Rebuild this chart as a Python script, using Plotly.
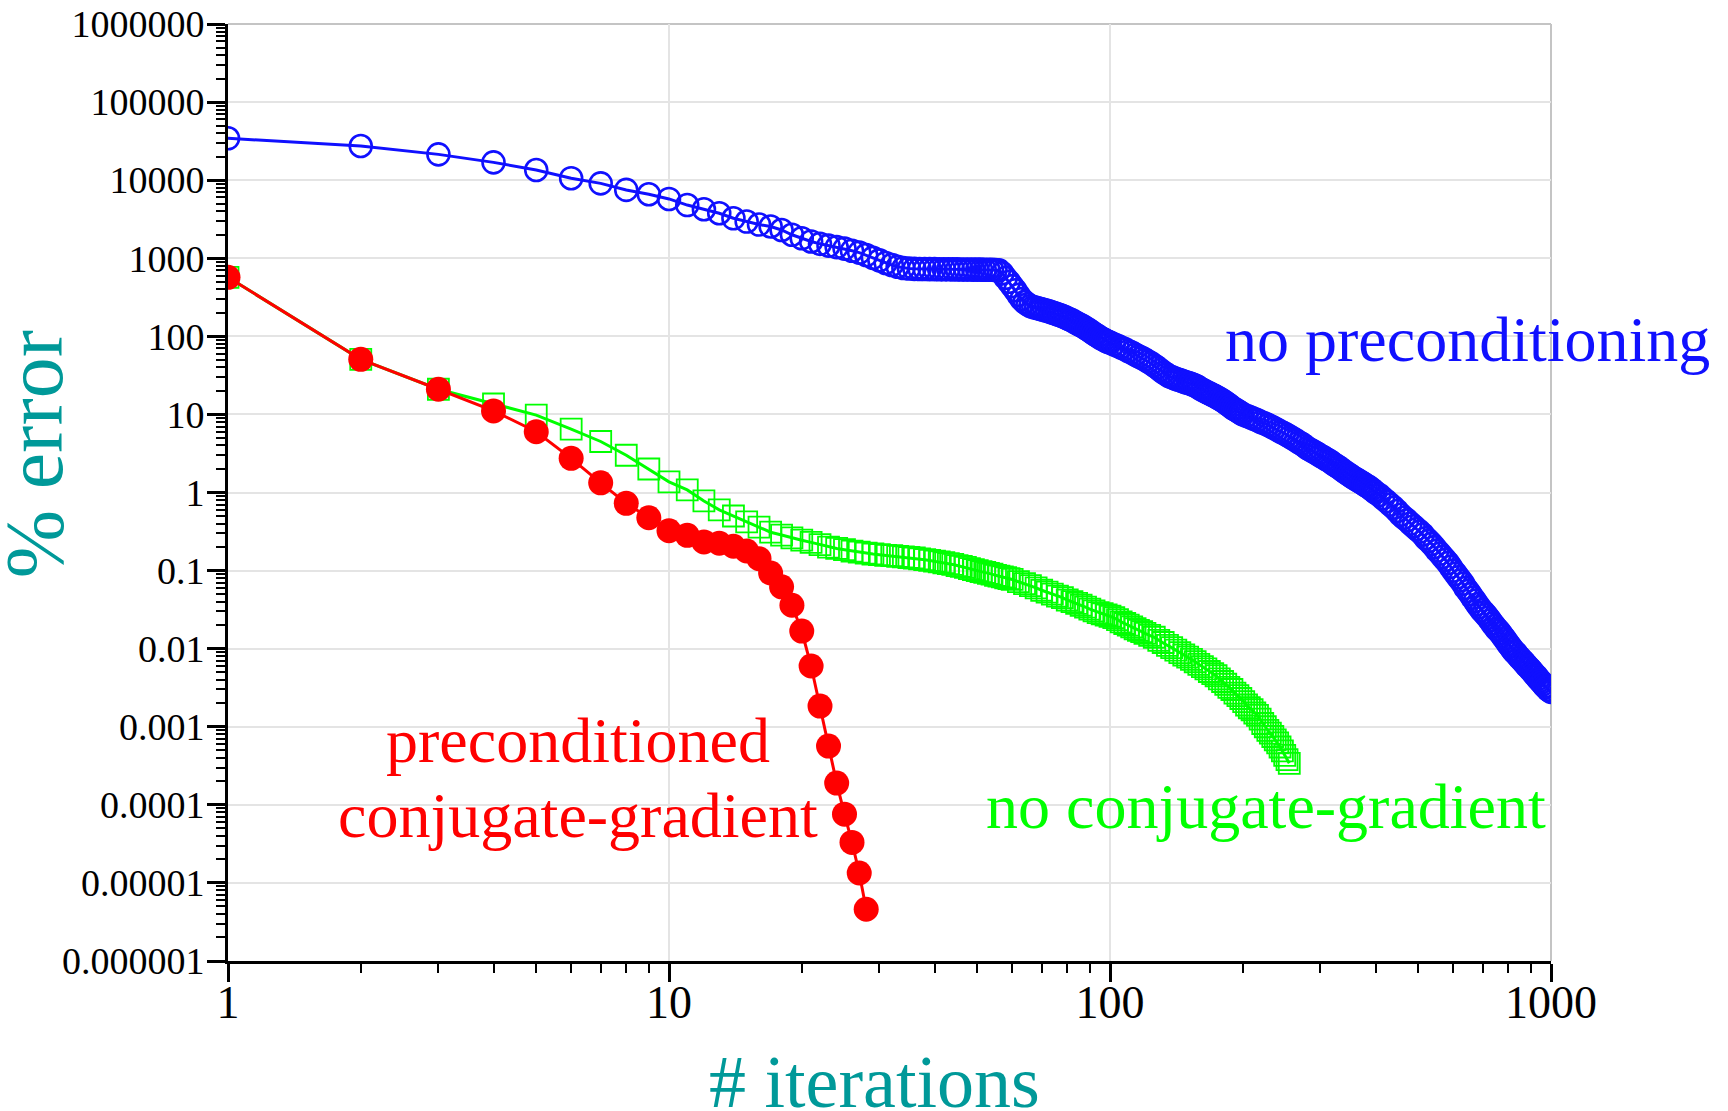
import plotly.graph_objects as go

# ---- data ----
blue_iter = list(range(1, 100)) + list(range(100, 200, 2)) + list(range(200, 400, 4)) + list(range(400, 1001, 8))
blue_err = [
    # 1-30
    34400, 27400, 21400, 16900, 13500, 10600, 9100, 7500, 6600, 5750,
    4800, 4250, 3770, 3250, 2950, 2700, 2550, 2300, 2000, 1800,
    1640, 1530, 1450, 1390, 1330, 1250, 1180, 1100, 1010, 940,
    # 31-55
    870, 820, 780, 750, 738, 732, 729, 727, 726, 725,
    724, 723, 722, 721, 720, 719, 718, 717, 716, 715,
    714, 713, 712, 711, 708,
    # 56-99
    700, 640, 560, 500, 440, 390, 340, 300, 275, 258,
    245, 238, 232, 227, 222, 217, 212, 207, 202, 197,
    192, 187, 182, 176, 170, 165, 160, 154, 148, 143,
    138, 133, 128, 123, 118, 113, 108, 104, 100, 96,
    93, 90, 87, 85,
    # 100-198 step 2
    83, 79, 75.5, 72, 68.5, 65, 62, 58.5, 55.5, 53,
    50.3, 47.7, 45, 42.3, 39.7, 37, 34.5, 32.8, 31, 30,
    29, 28.2, 27.5, 26.7, 26, 25.4, 24.8, 24.1, 23.5, 22.5,
    21.5, 20.7, 19.9, 19.2, 18.6, 18, 17.4, 16.8, 16.2, 15.6,
    15, 14.4, 13.8, 13.2, 12.6, 12, 11.6, 11.2, 10.8, 10.4,
    # 200-396 step 4
    10, 9.6, 9.2, 8.8, 8.4, 8, 7.7, 7.35, 7.0, 6.65,
    6.3, 6.0, 5.75, 5.45, 5.15, 4.9, 4.65, 4.4, 4.2, 3.95,
    3.7, 3.55, 3.4, 3.25, 3.1, 2.95, 2.85, 2.7, 2.6, 2.5,
    2.35, 2.25, 2.15, 2.05, 1.95, 1.85, 1.77, 1.7, 1.62, 1.55,
    1.5, 1.44, 1.39, 1.34, 1.29, 1.24, 1.2, 1.15, 1.1, 1.05,
    # 400-1000 step 8
    1.0, 0.93, 0.84, 0.77, 0.7, 0.64, 0.58, 0.52, 0.475, 0.44,
    0.4, 0.37, 0.34, 0.315, 0.29, 0.26, 0.24, 0.22, 0.2, 0.18,
    0.165, 0.15, 0.137, 0.125, 0.112, 0.1, 0.091, 0.082, 0.075, 0.068,
    0.06, 0.055, 0.05, 0.045, 0.041, 0.037, 0.034, 0.031, 0.029, 0.027,
    0.025, 0.023, 0.021, 0.0195, 0.018, 0.017, 0.0158, 0.0146, 0.0135, 0.0125,
    0.0115, 0.0107, 0.0099, 0.0092, 0.0088, 0.0082, 0.0077, 0.0073, 0.0069, 0.0065,
    0.0061, 0.0058, 0.0055, 0.0052, 0.0049, 0.0046, 0.0044, 0.0041, 0.0039, 0.0037,
    0.0035, 0.0033, 0.0032, 0.003, 0.0029, 0.0028,
]

green_iter = list(range(1, 61)) + list(range(62, 121, 2)) + list(range(123, 256, 3))
green_err = [
    # 1-30
    570, 50.8, 21, 13.6, 9.8, 6.5, 4.5, 3.0, 2.0, 1.37,
    1.08, 0.78, 0.6, 0.5, 0.42, 0.36, 0.31, 0.285, 0.262, 0.245,
    0.23, 0.215, 0.2, 0.192, 0.185, 0.178, 0.172, 0.167, 0.163, 0.16,
    # 31-60
    0.157, 0.155, 0.152, 0.15, 0.147, 0.145, 0.141, 0.138, 0.135, 0.132,
    0.129, 0.126, 0.123, 0.12, 0.116, 0.113, 0.11, 0.106, 0.103, 0.1,
    0.097, 0.095, 0.092, 0.09, 0.087, 0.085, 0.083, 0.081, 0.079, 0.077,
    # 62-120 step 2
    0.072, 0.068, 0.064, 0.06, 0.056, 0.053, 0.05, 0.047, 0.045, 0.042,
    0.04, 0.038, 0.036, 0.034, 0.032, 0.0305, 0.029, 0.028, 0.027, 0.026,
    0.025, 0.0235, 0.022, 0.021, 0.02, 0.019, 0.018, 0.0172, 0.0165, 0.0157,
    # 123-255 step 3
    0.0148, 0.014, 0.0128, 0.012, 0.011, 0.0103, 0.0096, 0.0089, 0.0083, 0.0078,
    0.0073, 0.0068, 0.0063, 0.0059, 0.0055, 0.0051, 0.0048, 0.0045, 0.0041, 0.0038,
    0.0035, 0.0032, 0.003, 0.0027, 0.0025, 0.0023, 0.0021, 0.0019, 0.00175, 0.00165,
    0.0015, 0.0014, 0.00125, 0.0011, 0.001, 0.0009, 0.00083, 0.00075, 0.00068, 0.00062,
    0.00055, 0.00049, 0.00043, 0.00038, 0.00034,
]

red_iter = list(range(1, 29))
red_err = [570, 50.8, 21, 11.1, 6.0, 2.74, 1.33, 0.726, 0.475, 0.324,
           0.283, 0.233, 0.224, 0.205, 0.178, 0.142, 0.093, 0.062, 0.036, 0.0168,
           0.006, 0.00184, 0.000566, 0.00019, 7.6e-5, 3.3e-5, 1.34e-5, 4.6e-6]

assert len(blue_iter) == len(blue_err), (len(blue_iter), len(blue_err))
assert len(green_iter) == len(green_err), (len(green_iter), len(green_err))
assert len(red_iter) == len(red_err)

x_tickvals = [1, 10, 100, 1000]
x_ticktext = ["1", "10", "100", "1000"]
y_tickvals = [1e-6, 1e-5, 1e-4, 1e-3, 1e-2, 1e-1, 1, 10, 100, 1000, 1e4, 1e5, 1e6]
y_ticktext = ["0.000001", "0.00001", "0.0001", "0.001", "0.01", "0.1", "1", "10", "100",
              "1000", "10000", "100000", "1000000"]

BLUE = "#1010ff"
GREEN = "#00ff00"
RED = "#ff0000"
TEAL = "#009999"
FONT = "Liberation Serif"

fig = go.Figure()
fig.add_trace(go.Scatter(
    x=blue_iter, y=blue_err, mode="lines+markers", name="no preconditioning",
    line=dict(color=BLUE, width=3),
    marker=dict(symbol="circle-open", size=22, color=BLUE, line=dict(width=2.6, color=BLUE)),
))
fig.add_trace(go.Scatter(
    x=green_iter, y=green_err, mode="lines+markers", name="no conjugate-gradient",
    line=dict(color=GREEN, width=3),
    marker=dict(symbol="square-open", size=21, color=GREEN, line=dict(width=1.8, color=GREEN)),
))
fig.add_trace(go.Scatter(
    x=red_iter, y=red_err, mode="lines+markers", name="preconditioned conjugate-gradient",
    line=dict(color=RED, width=3),
    marker=dict(symbol="circle", size=25, color=RED, line=dict(width=0)),
))

axis_common = dict(
    type="log", showline=True, linecolor="black", linewidth=3,
    ticks="outside", ticklen=18, tickwidth=2.5, tickcolor="black",
    showgrid=True, gridcolor="#e4e4e4", gridwidth=2, zeroline=False,
    minor=dict(ticks="outside", ticklen=9, tickwidth=2, tickcolor="black", dtick="D1", showgrid=False),
)

fig.update_xaxes(range=[0, 3], tickmode="array", tickvals=x_tickvals, ticktext=x_ticktext,
                 tickfont=dict(family=FONT, size=46, color="black"), ticklabelstandoff=-19,
                 **axis_common)
fig.update_yaxes(range=[-6, 6], tickmode="array", tickvals=y_tickvals, ticktext=y_ticktext,
                 tickfont=dict(family=FONT, size=38, color="black"), ticklabelstandoff=-5,
                 **axis_common)

annotations = [
    dict(text="# iterations", x=0.489, y=-0.129, xref="paper", yref="paper", showarrow=False,
         xanchor="center", yanchor="middle", font=dict(family=FONT, size=74, color=TEAL)),
    dict(text="% error", x=-0.1466, y=0.541, xref="paper", yref="paper", showarrow=False,
         textangle=-90, xanchor="center", yanchor="middle", font=dict(family=FONT, size=82, color=TEAL)),
    dict(text="no preconditioning", x=0.937, y=0.663, xref="paper", yref="paper", showarrow=False,
         xanchor="center", yanchor="middle", font=dict(family=FONT, size=64, color=BLUE)),
    dict(text="no conjugate-gradient", x=0.7846, y=0.1644, xref="paper", yref="paper", showarrow=False,
         xanchor="center", yanchor="middle", font=dict(family=FONT, size=64, color=GREEN)),
    dict(text="preconditioned", x=0.2646, y=0.2348, xref="paper", yref="paper", showarrow=False,
         xanchor="center", yanchor="middle", font=dict(family=FONT, size=64, color=RED)),
    dict(text="conjugate-gradient", x=0.2646, y=0.1548, xref="paper", yref="paper", showarrow=False,
         xanchor="center", yanchor="middle", font=dict(family=FONT, size=64, color=RED)),
]

fig.update_layout(
    width=1728, height=1111,
    margin=dict(l=228, r=177, t=24, b=150, autoexpand=False),
    paper_bgcolor="white", plot_bgcolor="white",
    showlegend=False,
    annotations=annotations,
    shapes=[
        dict(type="line", xref="paper", yref="paper", x0=0, x1=1, y0=1, y1=1,
             line=dict(color="#c4c4c4", width=2), layer="below"),
        dict(type="line", xref="paper", yref="paper", x0=1, x1=1, y0=0, y1=1,
             line=dict(color="#c4c4c4", width=2), layer="below"),
    ],
)

fig.write_html(
    "out.html",
    config={"displayModeBar": False},
    post_script="document.body.style.margin='0';document.body.style.padding='0';"
                "document.body.style.overflow='hidden';",
)
